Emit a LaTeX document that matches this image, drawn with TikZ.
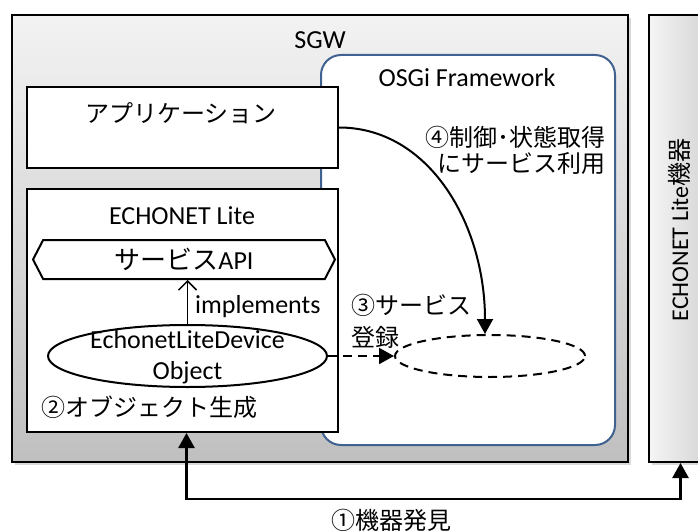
\documentclass[tikz,border=0pt]{standalone}
\usepackage{fontspec}
\setmainfont{Carlito}
\newfontfamily\jp{Noto Sans CJK JP}
\usetikzlibrary{positioning,shapes.geometric,shapes.symbols,shadows,arrows.meta}
\definecolor{osgiblue}{RGB}{64,98,145}

\begin{document}
\begin{tikzpicture}[x=1pt,y=-1pt,
  font=\fontsize{26}{30}\selectfont,
  box/.style={draw,line width=2pt,fill=white,inner sep=0pt},
  shade/.style={drop shadow={shadow xshift=3pt,shadow yshift=-3pt,opacity=.3}},
  txt/.style={inner sep=0pt},
  jptxt/.style={inner sep=0pt,font=\jp\fontsize{24}{28}\selectfont},
  dashline/.style={dash pattern=on 9pt off 6pt},
  tri/.tip={Triangle[length=15pt,width=16pt]}]
  \useasboundingbox (0,0) rectangle (698,532);

  % frames
  \node[draw,line width=2pt,top color=gray!10,bottom color=gray!50,shade,
        minimum width=616,minimum height=447] (sgw) at (320,238.5) {};
  \node[draw,line width=2pt,left color=gray!8,right color=gray!35,shade,
        minimum width=63,minimum height=447] (dev) at (680.5,238.5) {};
  \node[draw=osgiblue,line width=2pt,rounded corners=20pt,fill=white,
        minimum width=294,minimum height=390] (osgi) at (468,250) {};
  \node[txt] (sgw_t) at (320,40) {SGW};
  \node[txt] (osgi_t) at (467,78) {OSGi Framework};
  \node[txt,rotate=90,font=\fontsize{24}{28}\selectfont] (dev_t) at (679,230)
        {ECHONET Lite{\jp 機器}};

  % bundles
  \node[box,minimum width=311,minimum height=81] (app) at (182.5,127.5) {};
  \node[jptxt] (app_t) at (181,113) {アプリケーション};
  \node[box,minimum width=311,minimum height=243] (echo) at (182.5,310.5) {};
  \node[txt] (echo_t) at (182,216) {ECHONET Lite};
  \node[box,signal,signal to=west and east,signal pointer angle=125,
        minimum width=302,minimum height=39] (api) at (184,259.5) {{\jp サービス}API};
  \node[box,ellipse,minimum width=279,minimum height=62] (obj) at (187.5,356) {};
  \node[txt,align=center,font=\fontsize{26}{31}\selectfont] (obj_t) at (187.5,357)
        {EchonetLiteDevice\\Object};
  \node[box,ellipse,dashline,minimum width=190,minimum height=42] (svc) at (490,356) {};

  % steps
  \node[txt,anchor=west] (impl) at (195,307) {implements};
  \node[jptxt,anchor=west] (step2) at (41,407) {②オブジェクト生成};
  \node[jptxt,anchor=west,align=left,font=\jp\fontsize{24}{32}\selectfont]
        (step3) at (351,321) {③サービス\\登録};
  \node[jptxt,anchor=east,align=right,font=\jp\fontsize{24}{26}\selectfont]
        (step4) at (606,150) {④制御･状態取得\\にサービス利用};
  \node[jptxt] (step1) at (391,520) {①機器発見};

  \draw[line width=1.5pt,-{Straight Barb[length=9pt,width=18pt]}]
        (obj.north) -- (obj.north |- api.south);
  \draw[line width=2pt,dashline,-tri] (obj.east) -- (svc.west);
  \draw[line width=2pt,-tri] (app.east) .. controls +(90,0) and +(0,-110)
        .. ([xshift=-5pt]svc.north);
  \draw[line width=2.5pt,tri-tri] ([xshift=4pt]echo.south) -- ++(0,66) -| (dev.south);
\end{tikzpicture}
\end{document}
